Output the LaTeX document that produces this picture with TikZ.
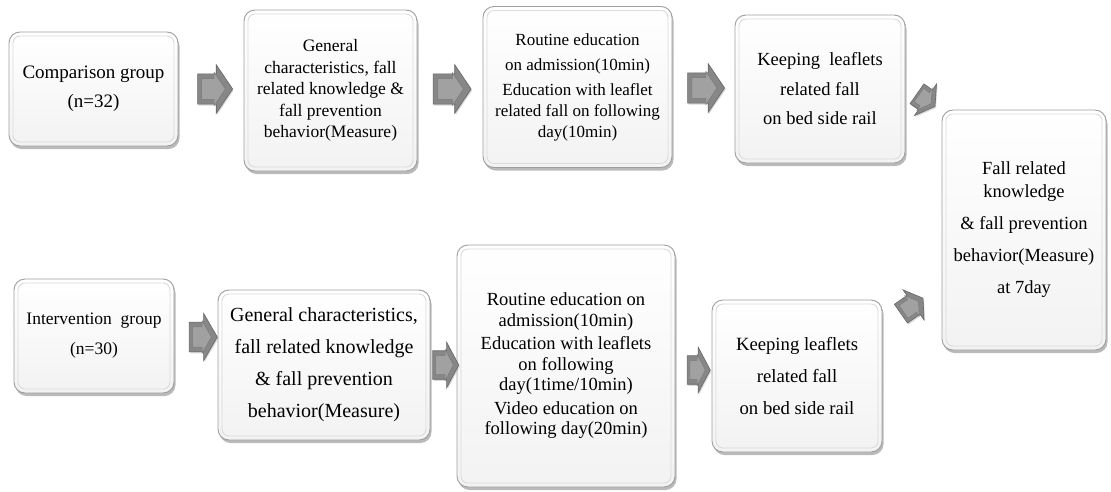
\documentclass[tikz,border=0pt]{standalone}
\usepackage{fontspec}
\setmainfont{Liberation Serif}
\usetikzlibrary{shapes.arrows,shadows}

\newcommand{\fsz}[2]{\fontsize{#1}{#2}\selectfont}

\tikzset{
  box/.style={rectangle, rounded corners=11pt, draw=black!38, line width=0.9pt,
    top color=white, bottom color=black!5, align=center, inner sep=2pt,
    drop shadow={shadow xshift=1.5pt, shadow yshift=-3pt, opacity=0.45, fill=black!60},
    path picture={\draw[black!14, line width=0.9pt, rounded corners=7pt]
      ([shift={(4pt,-4pt)}]path picture bounding box.north west) rectangle
      ([shift={(-4pt,4pt)}]path picture bounding box.south east);}},
  blockarrow/.style={single arrow, draw=black!60, fill=black!47, line width=0.6pt,
    inner xsep=0pt, drop shadow={shadow xshift=1pt, shadow yshift=-1.5pt, opacity=0.3}},
  blockarrowin/.style={single arrow, draw=black!52, fill=black!37, line width=0.5pt,
    inner xsep=0pt, scale=0.68}
}

% name, position, angle, length, width, tip angle
\newcommand{\flowarrow}[6]{%
  \pgfmathsetlengthmacro{\bodyhalf}{0.31*#5pt}%
  \pgfmathsetlengthmacro{\headext}{0.19*#5pt}%
  \node[blockarrow, rotate=#3, minimum height=#4pt, inner ysep=\bodyhalf,
    single arrow head extend=\headext, single arrow tip angle=#6] (#1) at (#2) {};
  \node[blockarrowin, rotate=#3, minimum height=#4pt, inner ysep=\bodyhalf,
    single arrow head extend=\headext, single arrow tip angle=#6] at (#1) {};
}

\begin{document}
\begin{tikzpicture}[x=1pt,y=-1pt]
  \useasboundingbox (0,0) rectangle (1111,491);

  % Comparison group row
  \node[box, minimum width=169pt, minimum height=114pt, font=\fsz{19}{29}] (cmp) at (93.5,89)
    {Comparison group\\(n=32)};
  \node[box, minimum width=173pt, minimum height=161pt, font=\fsz{17.5}{21.5}] (gen1) at (330.5,90.5)
    {General\\characteristics, fall\\related knowledge \&\\fall prevention\\behavior(Measure)};
  \node[box, minimum width=189pt, minimum height=161pt, font=\fsz{17}{21}] (rout1) at (577.5,87)
    {Routine education\\[4pt]on admission(10min)\\[4pt]Education with leaflet\\related fall on following\\day(10min)};
  \node[box, minimum width=170pt, minimum height=148pt, font=\fsz{18.5}{29.5}] (keep1) at (820,89)
    {Keeping\ \ leaflets\\related fall\\on bed side rail};

  % Measure after 7 days
  \node[box, minimum width=164pt, minimum height=240pt, font=\fsz{18.5}{23}] (final) at (1024,230)
    {Fall related\\knowledge\\[9pt]\& fall prevention\\[9pt]behavior(Measure)\\[9pt]at 7day};

  % Intervention group row
  \node[box, minimum width=160pt, minimum height=114pt, font=\fsz{17.5}{30}] (int) at (94,336)
    {Intervention\ \ group\\(n=30)};
  \node[box, minimum width=212pt, minimum height=150pt, font=\fsz{20}{32}] (gen2) at (324,365)
    {General characteristics,\\fall related knowledge\\\& fall prevention\\behavior(Measure)};
  \node[box, minimum width=218pt, minimum height=242pt, font=\fsz{18.5}{20.5}] (rout2) at (566,366)
    {Routine education on\\admission(10min)\\[3pt]Education with leaflets\\on following\\day(1time/10min)\\[3pt]Video education on\\following day(20min)};
  \node[box, minimum width=170pt, minimum height=152pt, font=\fsz{18.7}{32}] (keep2) at (797,376)
    {Keeping leaflets\\related fall\\on bed side rail};

  % Block arrows
  \flowarrow{a1}{210,89}{0}{35}{48}{112}
  \flowarrow{a2}{447,89}{0}{38}{48}{112}
  \flowarrow{a3}{701,88}{0}{37}{48}{112}
  \flowarrow{a4}{923,98}{-35}{22}{38}{118}
  \flowarrow{a5}{909,308}{35}{27}{36}{115}
  \flowarrow{a6}{199,337}{0}{28}{47}{120}
  \flowarrow{a7}{442,365}{0}{26}{45}{124}
  \flowarrow{a8}{695,370}{0}{23}{45}{124}
\end{tikzpicture}
\end{document}
